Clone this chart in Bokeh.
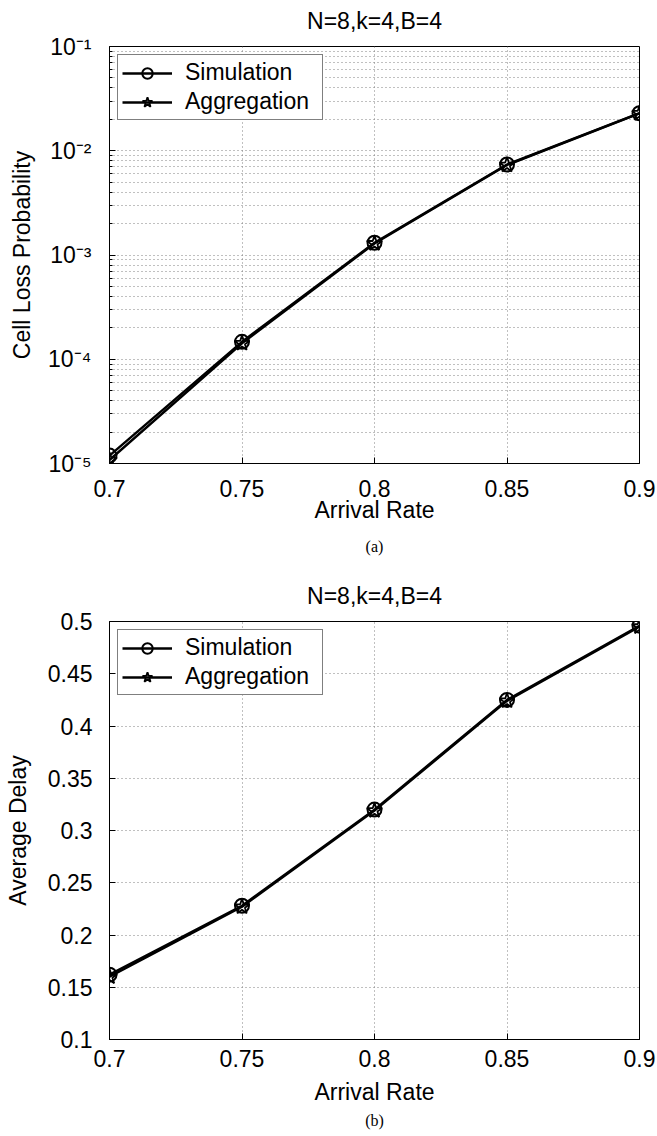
from bokeh.plotting import figure
from bokeh.layouts import column
from bokeh.models import FixedTicker, Title
from bokeh.embed import file_html
from bokeh.resources import INLINE

# ---- data ----
arrival_rate = [0.7, 0.75, 0.8, 0.85, 0.9]
clp_simulation = [1.19e-5, 1.47e-4, 1.31e-3, 7.38e-3, 2.29e-2]
clp_aggregation = [1.08e-5, 1.42e-4, 1.29e-3, 7.3e-3, 2.28e-2]
delay_simulation = [0.162, 0.228, 0.320, 0.425, 0.496]
delay_aggregation = [0.160, 0.227, 0.319, 0.424, 0.495]

x_ticks = [0.7, 0.75, 0.8, 0.85, 0.9]
x_tick_labels = ["0.7", "0.75", "0.8", "0.85", "0.9"]
clp_ticks = [1e-5, 1e-4, 1e-3, 1e-2, 1e-1]
clp_tick_labels = ["10⁻⁵", "10⁻⁴", "10⁻³", "10⁻²", "10⁻¹"]
delay_ticks = [0.1, 0.15, 0.2, 0.25, 0.3, 0.35, 0.4, 0.45, 0.5]
delay_tick_labels = ["0.1", "0.15", "0.2", "0.25", "0.3", "0.35", "0.4", "0.45", "0.5"]
title_text = "N=8,k=4,B=4"
series_names = ["Simulation", "Aggregation"]
x_label = "Arrival Rate"
clp_label = "Cell Loss Probability"
delay_label = "Average Delay"

FONT = "Liberation Sans"
FS = "23px"
GRID = "#808080"


def style(p, xticker, yticker, xover, yover):
    # thin blank band first (next to the frame), then the real title above it
    p.add_layout(Title(text=" ", text_font_size="6px", standoff=0), "above")
    p.add_layout(Title(text=title_text, text_font=FONT, text_font_size=FS,
                       text_font_style="normal", text_color="black", align="center"), "above")
    p.outline_line_color = "black"
    p.outline_line_width = 1
    p.background_fill_color = "white"
    p.border_fill_color = "white"
    for ax in (p.xaxis[0], p.yaxis[0]):
        ax.axis_label_text_font = FONT
        ax.axis_label_text_font_size = FS
        ax.axis_label_text_font_style = "normal"
        ax.major_label_text_font = FONT
        ax.major_label_text_font_size = FS
        ax.major_label_text_color = "black"
        ax.axis_label_text_color = "black"
        ax.axis_line_color = "black"
        ax.major_tick_in = 6
        ax.major_tick_out = 0
        ax.minor_tick_in = 3
        ax.minor_tick_out = 0
        ax.major_tick_line_color = "black"
        ax.minor_tick_line_color = "black"
    p.xaxis[0].ticker = xticker
    p.yaxis[0].ticker = yticker
    p.xaxis[0].major_label_overrides = xover
    p.yaxis[0].major_label_overrides = yover
    p.xgrid.ticker = xticker
    p.ygrid.ticker = yticker
    for g in (p.xgrid, p.ygrid):
        g.grid_line_color = GRID
        g.grid_line_dash = "1 3"
        g.grid_line_width = 1


def style_legend(p):
    lg = p.legend[0]
    lg.location = "top_left"
    lg.margin = 8
    lg.padding = 4
    lg.spacing = 2
    lg.glyph_width = 50
    lg.glyph_height = 26
    lg.label_height = 26
    lg.label_width = 133
    lg.label_standoff = 13
    lg.label_text_font = FONT
    lg.label_text_font_size = FS
    lg.label_text_color = "black"
    lg.border_line_color = "black"
    lg.border_line_width = 1
    lg.background_fill_alpha = 1


def draw(p, x, ys, ya):
    p.line(x, ys, line_color="black", line_width=2.4, legend_label=series_names[0])
    p.scatter(x, ys, marker="circle", size=14, fill_color=None, line_color="black",
              line_width=2, legend_label=series_names[0])
    p.line(x, ya, line_color="black", line_width=2.4, legend_label=series_names[1])
    p.scatter(x, ya, marker="star", size=16, fill_color=None, line_color="black",
              line_width=1.8, legend_label=series_names[1])


# ---- top: cell loss probability ----
xt1 = FixedTicker(ticks=x_ticks)
clp_minor = [m * d for d in clp_ticks[:-1] for m in range(2, 10)]
yt1 = FixedTicker(ticks=clp_ticks, minor_ticks=clp_minor)

p1 = figure(width=657, height=573, y_axis_type="log",
            x_range=(x_ticks[0], x_ticks[-1]), y_range=(clp_ticks[0], clp_ticks[-1]),
            output_backend="svg", toolbar_location=None,
            min_border_left=109, min_border_right=18, min_border_top=45, min_border_bottom=110,
            x_axis_label=x_label, y_axis_label=clp_label)
style(p1, xt1, yt1, dict(zip(x_ticks, x_tick_labels)), dict(zip(clp_ticks, clp_tick_labels)))
p1.xaxis[0].major_label_standoff = 16
p1.xaxis[0].axis_label_standoff = -3
p1.yaxis[0].major_label_standoff = 18
p1.yaxis[0].axis_label_standoff = 10
p1.ygrid.minor_grid_line_color = GRID
p1.ygrid.minor_grid_line_dash = "1 3"
draw(p1, arrival_rate, clp_simulation, clp_aggregation)
style_legend(p1)
p1.add_layout(Title(text="(a)", align="center", text_font="Liberation Serif",
                    text_font_size="16px", text_font_style="normal", text_color="black",
                    standoff=20), "below")

# ---- bottom: average delay ----
xt2 = FixedTicker(ticks=x_ticks)
yt2 = FixedTicker(ticks=delay_ticks)
p2 = figure(width=657, height=563,
            x_range=(x_ticks[0], x_ticks[-1]), y_range=(delay_ticks[0], delay_ticks[-1]),
            output_backend="svg", toolbar_location=None,
            min_border_left=109, min_border_right=17, min_border_top=48, min_border_bottom=97,
            x_axis_label=x_label, y_axis_label=delay_label)
style(p2, xt2, yt2, dict(zip(x_ticks, x_tick_labels)), dict(zip(delay_ticks, delay_tick_labels)))
p2.xaxis[0].major_label_standoff = 10
p2.xaxis[0].axis_label_standoff = 9
p2.yaxis[0].major_label_standoff = 17
p2.yaxis[0].axis_label_standoff = 14
draw(p2, arrival_rate, delay_simulation, delay_aggregation)
style_legend(p2)
p2.add_layout(Title(text="(b)", align="center", text_font="Liberation Serif",
                    text_font_size="16px", text_font_style="normal", text_color="black",
                    standoff=5), "below")

layout = column(p1, p2, spacing=0)
open("out.html", "w").write(file_html(layout, INLINE))
